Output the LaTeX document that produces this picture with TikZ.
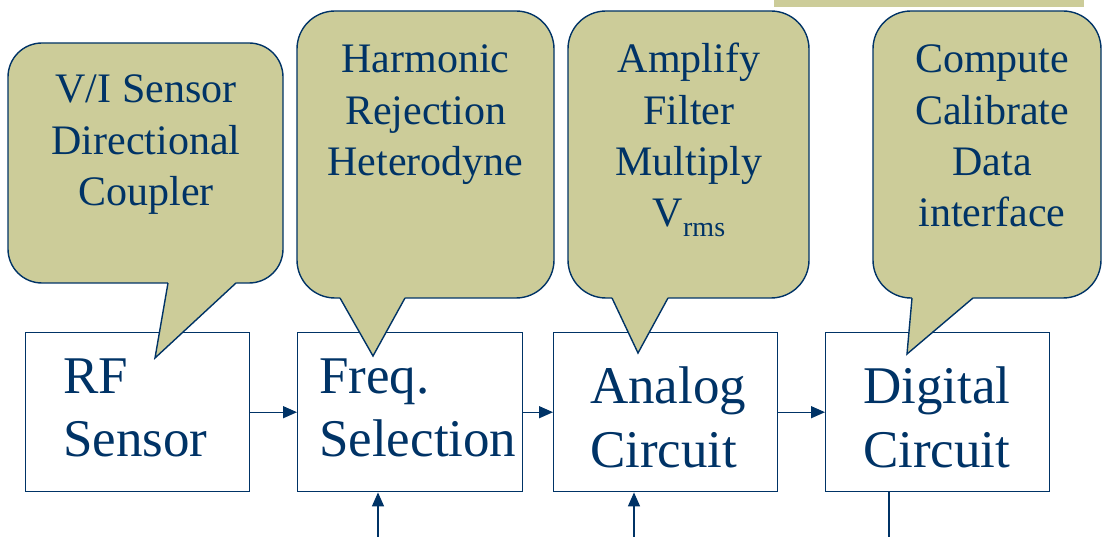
\documentclass[tikz,border=0pt]{standalone}
\usepackage{fontspec}
\setmainfont{Liberation Serif}
\usetikzlibrary{arrows.meta}
\definecolor{navy}{RGB}{0,51,102}
\definecolor{khaki}{RGB}{204,204,153}

\tikzset{
  block/.style={draw=navy, line width=1.4pt, fill=white, inner sep=0pt,
    anchor=north west, minimum height=159pt},
  boxtxt/.style={text=navy, font=\fontsize{53}{63}\selectfont, anchor=base west, inner sep=0pt},
  calltxt/.style={text=navy, font=\fontsize{42}{51}\selectfont, anchor=base, inner sep=0pt},
  bubble/.style={fill=khaki, draw=navy, line width=1.4pt},
  wire/.style={draw=navy, line width=1.4pt},
  flow/.style={wire, -{Triangle[length=14pt,width=12pt]}},
}

% speech bubble: corners (x1,y1) (x2,y2), radius, tail base x-left, x-right, tail tip
\newcommand\speechbubble[9]{%
  \draw[bubble, rounded corners=#5] (#1,#2) rectangle (#3,#4);
  \fill[khaki] (#6,#4) -- (#8,#9) -- (#7,#4) -- (#7,#4-3) -- (#6,#4-3) -- cycle;
  \draw[wire, line join=miter] (#6,#4) -- (#8,#9) -- (#7,#4);
}

\begin{document}
\begin{tikzpicture}[x=1pt, y=-1pt]
  \useasboundingbox (0,0) rectangle (1103,537);

  % strip along the top edge
  \fill[khaki] (774,0) rectangle (1084,7);

  % processing chain
  \node[block, minimum width=224pt] (rf)   at (25,332)  {};
  \node[block, minimum width=225pt] (freq) at (297,332) {};
  \node[block, minimum width=224pt] (ana)  at (553,332) {};
  \node[block, minimum width=224pt] (dig)  at (825,332) {};

  \node[boxtxt] (rf1) at (63,393) {RF};
  \node[boxtxt] (rf2) at (63,456) {Sensor};
  \node[boxtxt] (fr1) at (319,393) {Freq.};
  \node[boxtxt] (fr2) at (319,456) {Selection};
  \node[boxtxt] (an1) at (590,403) {Analog};
  \node[boxtxt] (an2) at (590,467) {Circuit};
  \node[boxtxt] (dg1) at (863,403) {Digital};
  \node[boxtxt] (dg2) at (863,467) {Circuit};

  \draw[flow] (rf.east) -- (freq.west);
  \draw[flow] (freq.east) -- (ana.west);
  \draw[flow] (ana.east) -- (dig.west);

  \coordinate (fin) at (378,537);
  \coordinate (ain) at (634,537);
  \coordinate (dout) at (889,537);
  \draw[flow] (fin) -- (fin |- freq.south);
  \draw[flow] (ain) -- (ain |- ana.south);
  \draw[wire] (dout |- dig.south) -- (dout);

  % callouts
  \speechbubble{8}{43}{283}{283}{34pt}{168}{236}{155}{358}
  \speechbubble{297}{11}{554}{298}{38pt}{340}{405}{373}{356}
  \speechbubble{568}{11}{809}{298}{38pt}{612}{668}{638}{353}
  \speechbubble{873}{11}{1101}{298}{38pt}{912}{973}{907}{354}

  \node[calltxt] (c11) at (146,103)   {V/I Sensor};
  \node[calltxt] (c12) at (146,154.5) {Directional};
  \node[calltxt] (c13) at (146,206)   {Coupler};

  \node[calltxt] (c21) at (425.5,73)  {Harmonic};
  \node[calltxt] (c22) at (425.5,125) {Rejection};
  \node[calltxt] (c23) at (425.5,176) {Heterodyne};

  \node[calltxt] (c31) at (689,73)    {Amplify};
  \node[calltxt] (c32) at (689,124.5) {Filter};
  \node[calltxt] (c33) at (689,176)   {Multiply};
  \node[calltxt] (c34) at (689,227)   {V\raisebox{-10pt}{\fontsize{28}{28}\selectfont rms}};

  \node[calltxt] (c41) at (992,73)    {Compute};
  \node[calltxt] (c42) at (992,124.5) {Calibrate};
  \node[calltxt] (c43) at (992,176)   {Data};
  \node[calltxt] (c44) at (992,227)   {interface};
\end{tikzpicture}
\end{document}
